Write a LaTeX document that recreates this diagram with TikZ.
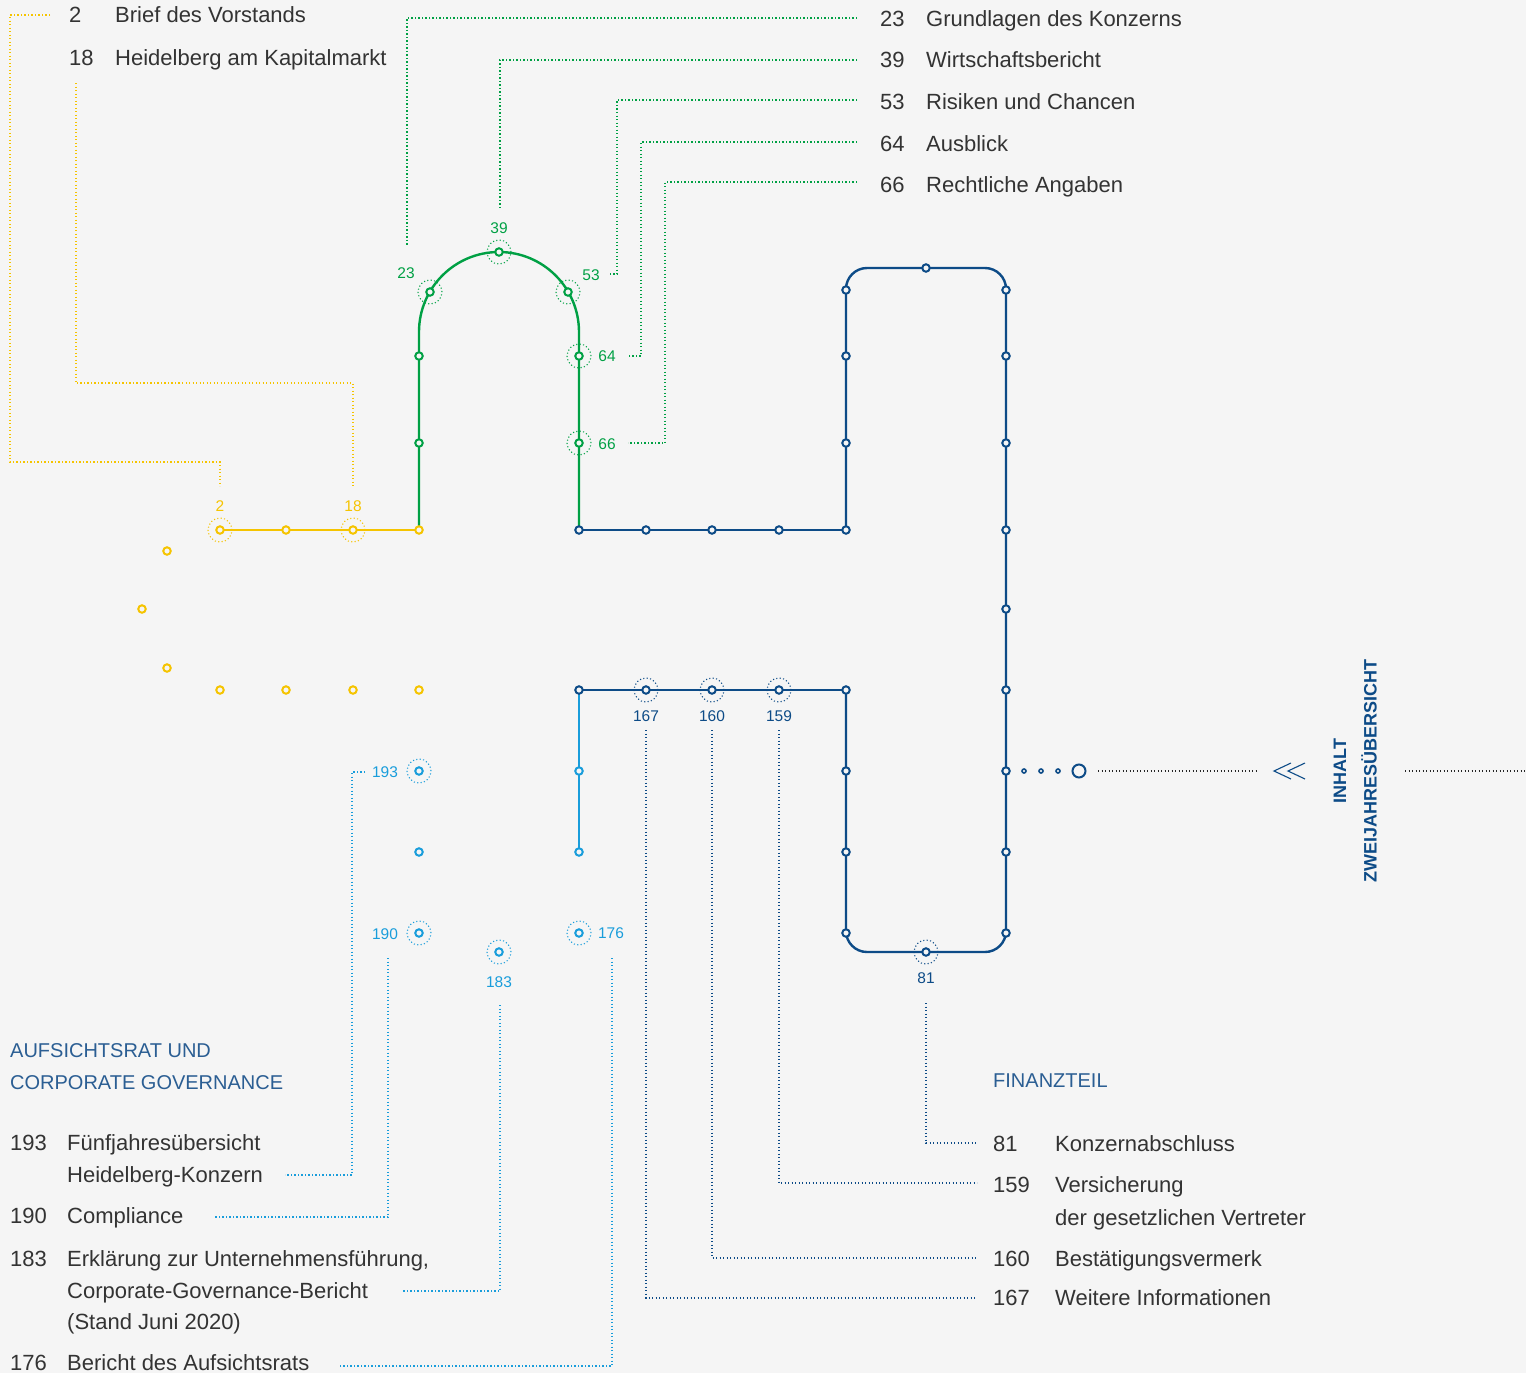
\documentclass[tikz,border=0pt]{standalone}
\usepackage{fontspec}
\setmainfont{Liberation Sans}
\definecolor{bg}{HTML}{F5F5F5}
\definecolor{cyel}{HTML}{F5C400}
\definecolor{cgrn}{HTML}{00A044}
\definecolor{cdbl}{HTML}{0D4B87}
\definecolor{clbl}{HTML}{199DDB}
\definecolor{ctxt}{HTML}{333333}
\definecolor{chead}{HTML}{2B5E93}
\tikzset{
  stn/.style={circle, draw, line width=2pt, fill=bg, inner sep=0pt, minimum size=7.5pt},
  ring/.style={circle, draw, line width=1.1pt, dash pattern=on 1.1pt off 2.3pt, inner sep=0pt, minimum size=24pt},
  route/.style={line width=2.4pt},
  leader/.style={line width=1.1pt, dash pattern=on 1.1pt off 2.4pt},
  lbl/.style={inner sep=0pt, font=\fontsize{15.5}{16}\selectfont},
  txt/.style={anchor=base west, inner sep=0pt, text=ctxt, font=\fontsize{22}{26}\selectfont},
  head/.style={anchor=base west, inner sep=0pt, text=chead, font=\fontsize{20}{24}\selectfont},
  vtxt/.style={rotate=90, inner sep=0pt, text=cdbl, font=\bfseries\fontsize{18}{20}\selectfont},
}
\begin{document}
\begin{tikzpicture}[x=1pt,y=-1pt]
\fill[bg] (0,0) rectangle (1526,1373);
\useasboundingbox (0,0) rectangle (1526,1373);

% ---------- station coordinates ----------
\foreach \n/\x/\y in {Y1/220/530,Y2/286/530,Y3/353/530,Y4/419/530,Y5/167/551,Y6/142/609,Y7/167/668,
  Y8/220/690,Y9/286/690,Y10/353/690,Y11/419/690,
  G1/419/443,G2/419/356,G3/430/292,G4/499/252,G5/568/292,G6/579/356,G7/579/443,GA/419/332,GB/579/332,
  D1/579/530,D2/646/530,D3/712/530,D4/779/530,D5/846/530,D6/846/443,D7/846/356,D8/846/290,D9/926/268,
  D10/1006/290,D11/1006/356,D12/1006/443,D13/1006/530,D14/1006/609,D15/1006/690,D16/1006/771,
  D17/1006/852,D18/1006/933,D19/926/952,D20/846/933,D21/846/852,D22/846/771,D23/846/690,
  D24/779/690,D25/712/690,D26/646/690,D27/579/690,
  CTL/846/268,CTR/1006/268,CBR/1006/952,CBL/846/952,
  L1/579/771,L2/579/852,L3/419/771,L4/419/852,L5/419/933,L6/499/952,L7/579/933}
  \coordinate (\n) at (\x,\y);

% ---------- routes ----------
\draw[route,cyel] (Y1) -- (Y4);
\draw[route,cgrn] (Y4) -- (GA) arc[start angle=180,end angle=360,radius=80] -- (D1);
\draw[route,cdbl] (D1) -- (D5);
\draw[route,cdbl,rounded corners=21pt] (D5) -- (CTL) -- (CTR) -- (CBR) -- (CBL) -- (D23);
\draw[route,cdbl] (D23) -- (D27);
\draw[route,clbl] (D27) -- (L2);

% ---------- rings ----------
\foreach \n in {Y1,Y3} \node[ring,draw=cyel] (\n r) at (\n) {};
\foreach \n in {G3,G4,G5,G6,G7} \node[ring,draw=cgrn] (\n r) at (\n) {};
\foreach \n in {D19,D24,D25,D26} \node[ring,draw=cdbl] (\n r) at (\n) {};
\foreach \n in {L3,L5,L6,L7} \node[ring,draw=clbl] (\n r) at (\n) {};

% ---------- stations ----------
\foreach \n in {Y1,Y2,Y3,Y4,Y5,Y6,Y7,Y8,Y9,Y10,Y11} \node[stn,draw=cyel] (\n s) at (\n) {};
\foreach \n in {G1,G2,G3,G4,G5,G6,G7} \node[stn,draw=cgrn] (\n s) at (\n) {};
\foreach \n in {D1,D2,D3,D4,D5,D6,D7,D8,D9,D10,D11,D12,D13,D14,D15,D16,D17,D18,D19,D20,D21,D22,D23,D24,D25,D26,D27}
  \node[stn,draw=cdbl] (\n s) at (\n) {};
\foreach \n in {L1,L2,L3,L4,L5,L6,L7} \node[stn,draw=clbl] (\n s) at (\n) {};

% ---------- station labels ----------
\node[lbl,text=cyel] (l2) at (220,506) {2};
\node[lbl,text=cyel] (l18) at (353,506) {18};
\node[lbl,text=cgrn] (l23) at (406,273) {23};
\node[lbl,text=cgrn] (l39) at (499,228) {39};
\node[lbl,text=cgrn] (l53) at (591,275) {53};
\node[lbl,text=cgrn] (l64) at (607,356) {64};
\node[lbl,text=cgrn] (l66) at (607,444) {66};
\node[lbl,text=cdbl] (l167) at (646,716) {167};
\node[lbl,text=cdbl] (l160) at (712,716) {160};
\node[lbl,text=cdbl] (l159) at (779,716) {159};
\node[lbl,text=cdbl] (l81) at (926,978) {81};
\node[lbl,text=clbl] (l193) at (385,772) {193};
\node[lbl,text=clbl] (l190) at (385,934) {190};
\node[lbl,text=clbl] (l183) at (499,982) {183};
\node[lbl,text=clbl] (l176) at (611,933) {176};

% ---------- exit to overview ----------
\node[circle,draw=cdbl,line width=1.6pt,fill=bg,inner sep=0pt,minimum size=4pt] (e1) at (1024,771) {};
\node[circle,draw=cdbl,line width=1.6pt,fill=bg,inner sep=0pt,minimum size=4pt] (e2) at (1041,771) {};
\node[circle,draw=cdbl,line width=1.6pt,fill=bg,inner sep=0pt,minimum size=4pt] (e3) at (1058,771) {};
\node[circle,draw=cdbl,line width=2pt,fill=bg,inner sep=0pt,minimum size=13pt] (e4) at (1079,771) {};
\coordinate (ea) at (1098,771);
\coordinate (eb) at (1258,771);
\draw[leader,black!85] (ea) -- (eb);
\coordinate (ch1) at (1274,771);
\coordinate (ch2) at (1288,771);
\draw[cdbl,line width=1.1pt] (1291,763) -- (ch1) -- (1291,779);
\draw[cdbl,line width=1.1pt] (1305,763) -- (ch2) -- (1305,779);
\node[vtxt] (inh) at (1340,771) {INHALT};
\node[vtxt] (zwei) at (1369,771) {ZWEIJAHRESÜBERSICHT};
\coordinate (ec) at (1405,771);
\coordinate (ed) at (1526,771);
\draw[leader,black!85] (ec) -- (ed);

% ---------- texts ----------
\node[txt] (n2) at (69,23) {2};
\node[txt] (t2) at (115,23) {Brief des Vorstands};
\node[txt] (n18) at (69,65) {18};
\node[txt] (t18) at (115,65) {Heidelberg am Kapitalmarkt};

\node[txt] (n23) at (880,26) {23};
\node[txt] (t23) at (926,26) {Grundlagen des Konzerns};
\node[txt] (n39) at (880,67) {39};
\node[txt] (t39) at (926,67) {Wirtschaftsbericht};
\node[txt] (n53) at (880,109) {53};
\node[txt] (t53) at (926,109) {Risiken und Chancen};
\node[txt] (n64) at (880,151) {64};
\node[txt] (t64) at (926,151) {Ausblick};
\node[txt] (n66) at (880,192) {66};
\node[txt] (t66) at (926,192) {Rechtliche Angaben};

\node[head] (h1) at (10,1057) {AUFSICHTSRAT UND};
\node[head] (h2) at (10,1089) {CORPORATE GOVERNANCE};
\node[txt] (n193) at (10,1150) {193};
\node[txt] (t193) at (67,1150) {Fünfjahresübersicht};
\node[txt] (t193b) at (67,1182) {Heidelberg-Konzern};
\node[txt] (n190) at (10,1223) {190};
\node[txt] (t190) at (67,1223) {Compliance};
\node[txt] (n183) at (10,1266) {183};
\node[txt] (t183) at (67,1266) {Erklärung zur Unternehmensführung,};
\node[txt] (t183b) at (67,1298) {Corporate-Governance-Bericht};
\node[txt] (t183c) at (67,1329) {(Stand Juni 2020)};
\node[txt] (n176) at (10,1370) {176};
\node[txt] (t176) at (67,1370) {Bericht des Aufsichtsrats};

\node[head] (h3) at (993,1087) {FINANZTEIL};
\node[txt] (n81) at (993,1151) {81};
\node[txt] (t81) at (1055,1151) {Konzernabschluss};
\node[txt] (n159) at (993,1192) {159};
\node[txt] (t159) at (1055,1192) {Versicherung};
\node[txt] (t159b) at (1055,1225) {der gesetzlichen Vertreter};
\node[txt] (n160) at (993,1266) {160};
\node[txt] (t160) at (1055,1266) {Bestätigungsvermerk};
\node[txt] (n167) at (993,1305) {167};
\node[txt] (t167) at (1055,1305) {Weitere Informationen};

% ---------- leader lines ----------
\coordinate (k2a) at (50,15);   \coordinate (k2b) at (220,486);
\coordinate (k18a) at (76,83);  \coordinate (k18b) at (353,486);
\draw[leader,cyel] (k2a) -- (10,15) -- (10,462) -- (220,462) -- (k2b);
\draw[leader,cyel] (k18a) -- (76,383) -- (353,383) -- (k18b);

\coordinate (k23a) at (857,18);  \coordinate (k23b) at (407,245);
\coordinate (k39a) at (857,60);  \coordinate (k39b) at (500,208);
\coordinate (k53a) at (857,100); \coordinate (k53b) at (609,274);
\coordinate (k64a) at (857,142); \coordinate (k64b) at (628,356);
\coordinate (k66a) at (857,182); \coordinate (k66b) at (628,443);
\draw[leader,cgrn] (k23a) -- (407,18) -- (k23b);
\draw[leader,cgrn] (k39a) -- (500,60) -- (k39b);
\draw[leader,cgrn] (k53a) -- (617,100) -- (617,274) -- (k53b);
\draw[leader,cgrn] (k64a) -- (641,142) -- (641,356) -- (k64b);
\draw[leader,cgrn] (k66a) -- (665,182) -- (665,443) -- (k66b);

\coordinate (k193a) at (365,772);  \coordinate (k193b) at (285,1175);
\coordinate (k190a) at (388,958);  \coordinate (k190b) at (215,1217);
\coordinate (k183a) at (500,1005); \coordinate (k183b) at (403,1291);
\coordinate (k176a) at (612,958);  \coordinate (k176b) at (340,1366);
\draw[leader,clbl] (k193a) -- (352,772) -- (352,1175) -- (k193b);
\draw[leader,clbl] (k190a) -- (388,1217) -- (k190b);
\draw[leader,clbl] (k183a) -- (500,1291) -- (k183b);
\draw[leader,clbl] (k176a) -- (612,1366) -- (k176b);

\coordinate (k81a) at (926,1003);  \coordinate (k81b) at (977,1143);
\coordinate (k159a) at (779,730);  \coordinate (k159b) at (977,1183);
\coordinate (k160a) at (712,730);  \coordinate (k160b) at (977,1258);
\coordinate (k167a) at (646,730);  \coordinate (k167b) at (977,1298);
\draw[leader,cdbl] (k81a) -- (926,1143) -- (k81b);
\draw[leader,cdbl] (k159a) -- (779,1183) -- (k159b);
\draw[leader,cdbl] (k160a) -- (712,1258) -- (k160b);
\draw[leader,cdbl] (k167a) -- (646,1298) -- (k167b);
\end{tikzpicture}
\end{document}
